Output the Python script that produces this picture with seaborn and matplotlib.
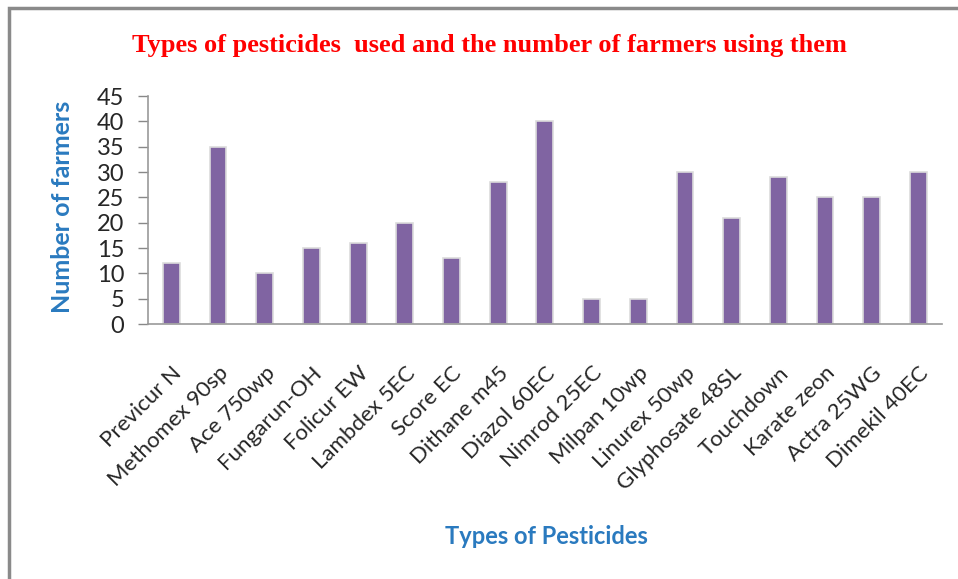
import matplotlib
matplotlib.use('Agg')
import pandas as pd
import matplotlib.pyplot as plt
import seaborn as sns
from matplotlib.patches import Rectangle

pesticides = ['Previcur N', 'Methomex 90sp', 'Ace 750wp', 'Fungarun-OH', 'Folicur EW',
              'Lambdex 5EC', 'Score EC', 'Dithane m45', 'Diazol 60EC', 'Nimrod 25EC',
              'Milpan 10wp', 'Linurex 50wp', 'Glyphosate 48SL', 'Touchdown', 'Karate zeon',
              'Actra 25WG', 'Dimekil 40EC']
farmers = [12, 35, 10, 15, 16, 20, 13, 28, 40, 5, 5, 30, 21, 29, 25, 25, 30]
y_ticks = [0, 5, 10, 15, 20, 25, 30, 35, 40, 45]

data = pd.DataFrame({'Pesticide': pesticides, 'Farmers': farmers})

sns.set_style('white')
plt.rcParams['font.family'] = ['Lato', 'DejaVu Sans']

fig = plt.figure(figsize=(9.58, 5.79), dpi=100)
ax = fig.add_axes([0.1545, 0.4404, 0.983 - 0.1545, 0.834 - 0.4404])

sns.barplot(x='Pesticide', y='Farmers', data=data, color='#8064A2', saturation=1,
            width=0.36, edgecolor='#dcdcdc', linewidth=1.2, ax=ax)

ax.set_ylim(0, 45)
ax.set_yticks(y_ticks)
ax.set_xlim(-0.5, len(pesticides) - 0.5)
ax.tick_params(axis='y', labelsize=17, length=7, width=1, color='#888888',
               direction='out', left=True, pad=10)
ax.tick_params(axis='x', labelsize=16, length=0, pad=28)
plt.setp(ax.get_xticklabels(), rotation=45, ha='right', va='top', rotation_mode='anchor')
for sp in ['top', 'right']:
    ax.spines[sp].set_visible(False)
for sp in ['left', 'bottom']:
    ax.spines[sp].set_color('#999999')
    ax.spines[sp].set_linewidth(1.2)
ax.set_xlabel('')
ax.set_ylabel('')

fig.text(0.5105, 0.922, 'Types of pesticides  used and the number of farmers using them',
         ha='center', va='center', color='#ff0000', fontsize=19, fontweight='bold',
         family='Liberation Serif')
fig.text(0.065, 0.642, 'Number of farmers', rotation=90, ha='center', va='center',
         color='#2a7abf', fontsize=18, fontweight='bold')
fig.text(0.570, 0.073, 'Types of Pesticides', ha='center', va='center',
         color='#2a7abf', fontsize=17, fontweight='bold')

# outer chart frame (only top and left edges visible)
fig.patches.append(Rectangle((0.0095, -0.05), 1.2, 0.036 + 1.0, transform=fig.transFigure,
                             fill=False, edgecolor='#8a8a8a', linewidth=2.5))

fig.savefig('out.png', dpi=100)
